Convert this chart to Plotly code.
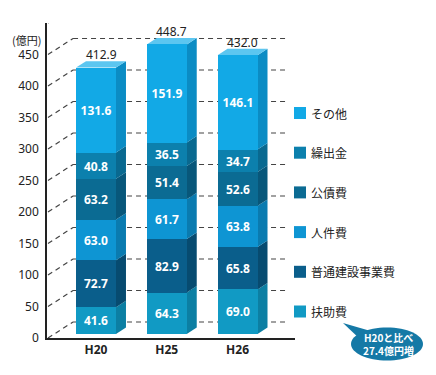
import plotly.graph_objects as go

# ---------------- data ----------------
years = ["H20", "H25", "H26"]
categories = ["扶助費", "普通建設事業費", "人件費", "公債費", "繰出金", "その他"]
fuzyo = [41.6, 64.3, 69.0]
futsu_kensetsu = [72.7, 82.9, 65.8]
jinken = [63.0, 61.7, 63.8]
kousai = [63.2, 51.4, 52.6]
kuridashi = [40.8, 36.5, 34.7]
sonota = [131.6, 151.9, 146.1]
totals = [412.9, 448.7, 432.0]
y_ticks = [0, 50, 100, 150, 200, 250, 300, 350, 400, 450]
unit_label = "(億円)"
callout_lines = ["H20と比べ", "27.4億円増"]

series = [fuzyo, futsu_kensetsu, jinken, kousai, kuridashi, sonota]

# ---------------- style ----------------
front = ["#119ac4", "#0a5e8b", "#0e95d3", "#0b6b93", "#0c80ad", "#12a9e6"]
side = ["#0c7fa3", "#074b70", "#0a7bb0", "#08577a", "#096990", "#0b8cc4"]
top_col = "#5cc6f0"

OFF = 8  # page body margin offset
W, H = 436 - OFF, 375 - OFF
ML_REF, PLOT_R_REF, MT_REF, PLOT_B_REF = 47, 295, 23, 338
ML, MT = ML_REF - OFF, MT_REF - OFF
MR = W - (PLOT_R_REF - OFF)
MB = H - (PLOT_B_REF - OFF)
PW, PH = PLOT_R_REF - ML_REF, PLOT_B_REF - MT_REF
XR = [-0.6926, 2.812]
Y1R = [0, 500]
Y2R = [-6.2, 482]
BW = 0.565
DX = 0.141   # depth offset of bar faces (x units)
DY = 10.0    # depth offset of bar faces (y2 units)
BACK_DXP = 0.105  # back wall offset in paper x
BACK_DY = 25.4    # back wall offset in y units
FONT = "Noto Sans, Noto Sans CJK JP"
JFONT = "Noto Sans CJK JP"
LEG_TOP_REF, LEG_PITCH, LEG_SQ_X, LEG_SQ = 113, 39.7, 300, 12


def px_to_paper_x(px):
    return (px - ML_REF) / PW


def px_to_paper_y(py):
    return (PLOT_B_REF - py) / PH


fig = go.Figure()
xs = list(range(len(years)))
for name, vals, c in zip(categories, series, front):
    fig.add_trace(go.Bar(
        x=xs, y=vals, name=name, yaxis="y2", width=BW,
        marker=dict(color=c, line=dict(width=0)),
        text=[f"{v:.1f}" for v in vals], textposition="inside",
        insidetextanchor="middle", constraintext="none", textangle=0,
        textfont=dict(color="white", size=12, family="Noto Sans", weight="bold"),
        hoverinfo="skip", showlegend=False,
    ))

shapes = []
# back wall grid lines and diagonals
for v in y_ticks + [500]:
    shapes.append(dict(type="line", xref="paper", yref="y", layer="below",
                       x0=BACK_DXP, x1=px_to_paper_x(288), y0=v + BACK_DY, y1=v + BACK_DY,
                       line=dict(color="#444", width=1.2, dash="5px,4px")))
    shapes.append(dict(type="line", xref="paper", yref="y", layer="below",
                       x0=0.004, x1=BACK_DXP, y0=v, y1=v + BACK_DY,
                       line=dict(color="#444", width=1.2, dash="5px,4px")))

# side and top faces of the bars, derived from the stacked values
for i, x in enumerate(xs):
    base = 0.0
    xr = x + BW / 2
    xl = x - BW / 2
    for k, vals in enumerate(series):
        t = base + vals[i]
        path = (f"M{xr},{base} L{xr + DX},{base + DY} L{xr + DX},{t + DY} L{xr},{t} Z")
        shapes.append(dict(type="path", xref="x", yref="y2", path=path, layer="below",
                           fillcolor=side[k], line=dict(width=0)))
        base = t
    path = f"M{xl},{base} L{xl + DX},{base + DY} L{xr + DX},{base + DY} L{xr},{base} Z"
    shapes.append(dict(type="path", xref="x", yref="y2", path=path, layer="below",
                       fillcolor=top_col, line=dict(width=0)))

annotations = []

# legend (top item = top of stack)
for j, k in enumerate(reversed(range(len(categories)))):
    cyp = LEG_TOP_REF + j * LEG_PITCH
    shapes.append(dict(type="rect", xref="paper", yref="paper",
                       x0=px_to_paper_x(LEG_SQ_X - LEG_SQ / 2), x1=px_to_paper_x(LEG_SQ_X + LEG_SQ / 2),
                       y0=px_to_paper_y(cyp + LEG_SQ / 2), y1=px_to_paper_y(cyp - LEG_SQ / 2),
                       fillcolor=front[k], line=dict(width=0)))
    annotations.append(dict(x=px_to_paper_x(LEG_SQ_X + LEG_SQ / 2 + 3), y=px_to_paper_y(cyp),
                            xref="paper", yref="paper", xanchor="left", yanchor="middle",
                            text=categories[k], showarrow=False,
                            font=dict(size=12, color="#222", family=JFONT)))

# callout balloon (ellipse from bezier curves + tail)
bc = "#1579a6"
cx, cy = px_to_paper_x(387), px_to_paper_y(344)
rx = px_to_paper_x(423) - cx
ry = cy - px_to_paper_y(327.5)
kk = 0.5523
ell = (f"M{cx + rx},{cy} "
       f"C{cx + rx},{cy + kk * ry} {cx + kk * rx},{cy + ry} {cx},{cy + ry} "
       f"C{cx - kk * rx},{cy + ry} {cx - rx},{cy + kk * ry} {cx - rx},{cy} "
       f"C{cx - rx},{cy - kk * ry} {cx - kk * rx},{cy - ry} {cx},{cy - ry} "
       f"C{cx + kk * rx},{cy - ry} {cx + rx},{cy - kk * ry} {cx + rx},{cy} Z")
shapes.append(dict(type="path", xref="paper", yref="paper", path=ell,
                   fillcolor=bc, line=dict(width=0)))
tail = (f"M{px_to_paper_x(343)},{px_to_paper_y(323)} "
        f"L{px_to_paper_x(374)},{px_to_paper_y(332)} "
        f"L{px_to_paper_x(362)},{px_to_paper_y(341)} Z")
shapes.append(dict(type="path", xref="paper", yref="paper", path=tail,
                   fillcolor=bc, line=dict(width=0)))

for i, x in enumerate(xs):
    annotations.append(dict(x=x + DX / 2, y=totals[i], xref="x", yref="y2",
                            xanchor="center", yanchor="middle",
                            text=f"{totals[i]:.1f}", showarrow=False, yshift=13,
                            font=dict(size=12, color="#222", family="Noto Sans")))
annotations.append(dict(x=px_to_paper_x(43), y=px_to_paper_y(39.5), xref="paper", yref="paper",
                        xanchor="right", yanchor="middle", text=unit_label, showarrow=False,
                        font=dict(size=11, color="#222", family=JFONT)))
for li, line_text in enumerate(callout_lines):
    annotations.append(dict(x=px_to_paper_x(388), y=px_to_paper_y(337 + 13.5 * li),
                            xref="paper", yref="paper", xanchor="center", yanchor="middle",
                            text=line_text, showarrow=False,
                            font=dict(size=10, color="white", family=JFONT, weight="bold")))

fig.update_layout(
    width=W, height=H,
    margin=dict(l=ML, r=MR, t=MT, b=MB, autoexpand=False),
    paper_bgcolor="white", plot_bgcolor="white",
    barmode="stack", bargap=0, showlegend=False,
    shapes=shapes, annotations=annotations,
    font=dict(family=FONT, color="#222"),
    xaxis=dict(range=XR, tickvals=xs, ticktext=years, showgrid=False, zeroline=False,
               showline=True, linecolor="#222", linewidth=1.5, ticks="",
               tickfont=dict(size=12, family="Noto Sans", weight="bold", color="#222"),
               fixedrange=True),
    yaxis=dict(range=Y1R, tickvals=y_ticks, showgrid=False, zeroline=False,
               showline=True, linecolor="#222", linewidth=1.5, ticks="",
               ticklabelstandoff=4,
               tickfont=dict(size=12, family="Noto Sans", color="#222"), fixedrange=True),
    yaxis2=dict(range=Y2R, overlaying="y", visible=False, fixedrange=True),
)

fig.write_html("out.html")
